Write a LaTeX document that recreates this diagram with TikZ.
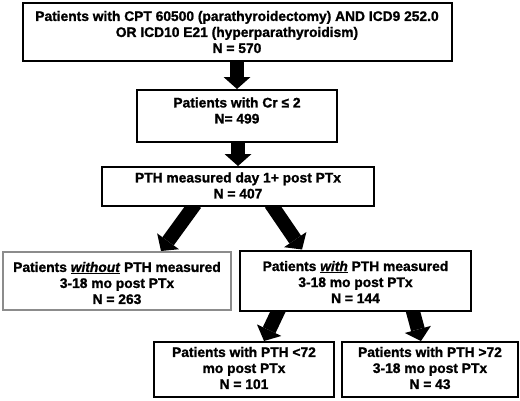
\documentclass[tikz,border=0pt]{standalone}
\usepackage{fontspec}
\setmainfont{Liberation Sans}[BoldFeatures={FakeBold=1.2},BoldItalicFeatures={FakeBold=1.2}]
\usetikzlibrary{arrows.meta}
\pgfdeclarelayer{bg}
\pgfsetlayers{bg,main}
\definecolor{boxgray}{RGB}{140,140,140}
\begin{document}
\begin{tikzpicture}[x=1pt,y=-1pt,
  box/.style={draw=black, line width=2pt, fill=white, inner sep=0pt},
  graybox/.style={box, draw=boxgray},
  txt/.style={align=center, font=\fontsize{13.8}{16}\selectfont\bfseries, inner sep=0pt},
  fat/.style={line width=14pt, -{Triangle[width=27pt,length=12pt,line width=0pt]}, shorten <=-4pt}]
\useasboundingbox (0,0) rectangle (520,400);
% boxes
\node[box, minimum width=429pt, minimum height=58pt] (b1) at (237,32) {};
\node[box, minimum width=200pt, minimum height=52pt] (b2) at (237,116) {};
\node[box, minimum width=272pt, minimum height=39pt] (b3) at (238,186.5) {};
\node[graybox, minimum width=228pt, minimum height=58pt] (b4) at (117,281) {};
\node[box, minimum width=231pt, minimum height=60pt] (b5) at (355.5,280.5) {};
\node[box, minimum width=180pt, minimum height=55pt] (b6) at (244,369.5) {};
\node[box, minimum width=176pt, minimum height=55pt] (b7) at (430,369.5) {};
% texts
\node[txt] (t1) at (237,32) {Patients with CPT 60500 (parathyroidectomy) AND ICD9 252.0\\OR ICD10 E21 (hyperparathyroidism)\\N = 570};
\node[txt] (t2) at (237,110.5) {Patients with Cr ≤ 2\\N= 499};
\node[txt] (t3) at (238,185.5) {PTH measured day 1+ post PTx\\N = 407};
\node[txt] (t4) at (117,283) {Patients \underline{\textit{without}} PTH measured\\3-18 mo post PTx\\N = 263};
\node[txt] (t5) at (355.5,282) {Patients \underline{\textit{with}} PTH measured\\3-18 mo post PTx\\N = 144};
\node[txt] (t6) at (244,368) {Patients with PTH <72\\mo post PTx\\N = 101};
\node[txt] (t7) at (430,368) {Patients with PTH >72\\3-18 mo post PTx\\N = 43};
% arrows
\begin{pgfonlayer}{bg}
\draw[fat] (b1.south) -- (b2.north);
\draw[fat] ([xshift=1pt]b2.south) -- (b3.north);
\draw[fat] ([xshift=-45pt]b3.south) -- ([xshift=44pt]b4.north);
\draw[fat] ([xshift=35pt]b3.south) -- ([xshift=-53.5pt]b5.north);
\draw[fat] ([xshift=-77.5pt]b5.south) -- ([xshift=20pt]b6.north);
\draw[fat] ([xshift=57.5pt]b5.south) -- ([xshift=-9pt]b7.north);
\end{pgfonlayer}
\end{tikzpicture}
\end{document}
